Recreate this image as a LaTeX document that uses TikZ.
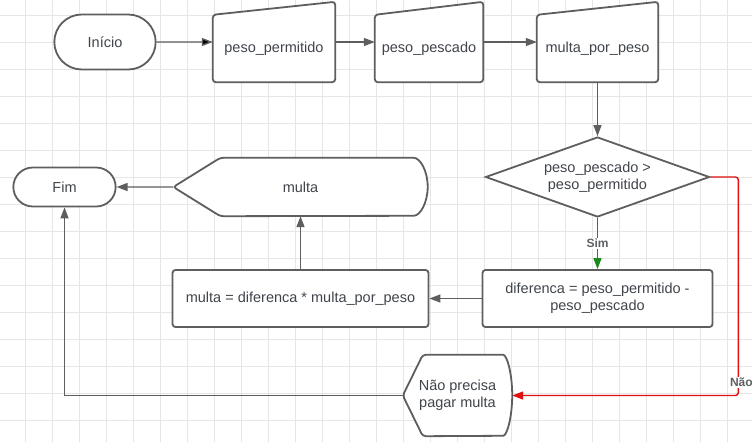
\documentclass[tikz,border=0pt]{standalone}
\usepackage{fontspec}
\setmainfont{Liberation Sans}
\usetikzlibrary{arrows.meta,positioning,shapes.geometric,shapes.misc}

\definecolor{contornocor}{HTML}{5E5E5E}
\definecolor{textocor}{HTML}{40454B}
\definecolor{gradecor}{HTML}{E6E6E6}
\definecolor{simcor}{HTML}{1C8A1C}
\definecolor{naocor}{HTML}{E01010}

\pgfdeclarelayer{grade}
\pgfdeclarelayer{fundo}
\pgfsetlayers{grade,fundo,main}

\begin{document}
\begin{tikzpicture}[x=1pt,y=-1pt,on grid,
    >={Triangle[length=11pt,width=8pt]},
    every node/.style={font=\fontsize{14.5}{17}\selectfont, text=textocor, align=center},
    terminal/.style={rounded rectangle, draw=contornocor, fill=white, line width=1.8pt},
    entrada/.style={rectangle, inner sep=0pt},
    processo/.style={rectangle, draw=contornocor, fill=white, line width=1.8pt, rounded corners=3pt, minimum height=57pt},
    decisao/.style={diamond, draw=contornocor, fill=white, line width=1.8pt, aspect=2.8, inner sep=0pt, minimum width=224pt, minimum height=80pt},
    saida/.style={rectangle, inner sep=0pt},
    contorno/.style={draw=contornocor, fill=white, line width=1.8pt, rounded corners=3pt},
    seta/.style={->, draw=contornocor, line width=1.4pt},
    rotulo/.style={font=\fontsize{12}{14}\selectfont\bfseries, text=textocor!85, fill=white, inner sep=1pt}]

    \useasboundingbox (0,0) rectangle (752,442);

    % grade de fundo
    \begin{pgfonlayer}{grade}
        \fill[white] (0,0) rectangle (752,442);
        \foreach \gx in {-2,25,...,754}
            \draw[gradecor, line width=1pt] (\gx,0) -- (\gx,442);
        \foreach \gy in {-12,15,...,447}
            \draw[gradecor, line width=1pt] (0,\gy) -- (752,\gy);
    \end{pgfonlayer}

    \node[terminal, minimum width=108pt, minimum height=55pt] (inicio) at (105,42) {Início};
    \node[entrada, minimum width=122pt, minimum height=67pt] (pperm) [below right=6.5pt and 169pt of inicio] {peso\_permitido};
    \node[entrada, minimum width=108pt, minimum height=67pt] (pesc) [right=155pt of pperm] {peso\_pescado};
    \node[entrada, minimum width=121pt, minimum height=67pt] (mpp) [right=168.5pt of pesc] {multa\_por\_peso};
    \node[decisao] (cond) [below=128.5pt of mpp] {peso\_pescado >\\peso\_permitido};
    \node[processo, minimum width=230pt] (dif) [below=121.5pt of cond] {diferenca = peso\_permitido -\\peso\_pescado};
    \node[processo, minimum width=256pt] (calc) [left=297pt of dif] {multa = diferenca * multa\_por\_peso};
    \node[saida, minimum width=254pt, minimum height=58pt] (multa) [above=111.5pt of calc] {multa};
    \node[terminal, minimum width=109pt, minimum height=39pt] (fim) [left=236pt of multa] {Fim};
    \node[saida, minimum width=109pt, minimum height=81pt] (nao) [below left=97pt and 140pt of dif] {Não precisa\\pagar multa};

    % contornos de entrada e saida
    \begin{pgfonlayer}{fundo}
        \foreach \n in {pperm,pesc,mpp}
            \draw[contorno] (\n.south west) -- (\n.north west) -- ([yshift=13pt]\n.north east) -- (\n.south east) -- cycle;
        \draw[contorno] (multa.west) -- ([xshift=47pt]multa.north west) -- ([xshift=-17pt]multa.north east)
            arc[start angle=90, end angle=-90, x radius=17pt, y radius=29pt] -- ([xshift=47pt]multa.south west) -- cycle;
        \draw[contorno] (nao.west) -- ([xshift=20pt]nao.north west) -- ([xshift=-12pt]nao.north east)
            arc[start angle=90, end angle=-90, x radius=12pt, y radius=40.5pt] -- ([xshift=20pt]nao.south west) -- cycle;
    \end{pgfonlayer}

    \path[seta] (inicio) edge (inicio -| pperm.west);
    \draw[seta] (pperm.east |- inicio) -- (pesc.west |- inicio);
    \draw[seta] (pesc.east |- inicio) -- (mpp.west |- inicio);
    \draw[seta] (mpp) -- (cond);
    \draw[seta, draw=simcor] (cond) -- node[rotulo] {Sim} (dif);
    \draw[seta] (dif) -- (calc);
    \draw[seta] (calc) -- (multa);
    \draw[seta] (multa) -- (fim);
    \draw[seta] (nao) -| (fim);
    \draw[seta, draw=naocor, rounded corners=3pt] (cond.east) -- ++(28,0)
        |- node[rotulo, pos=0.47, xshift=3pt] {Não} (nao);
\end{tikzpicture}
\end{document}
